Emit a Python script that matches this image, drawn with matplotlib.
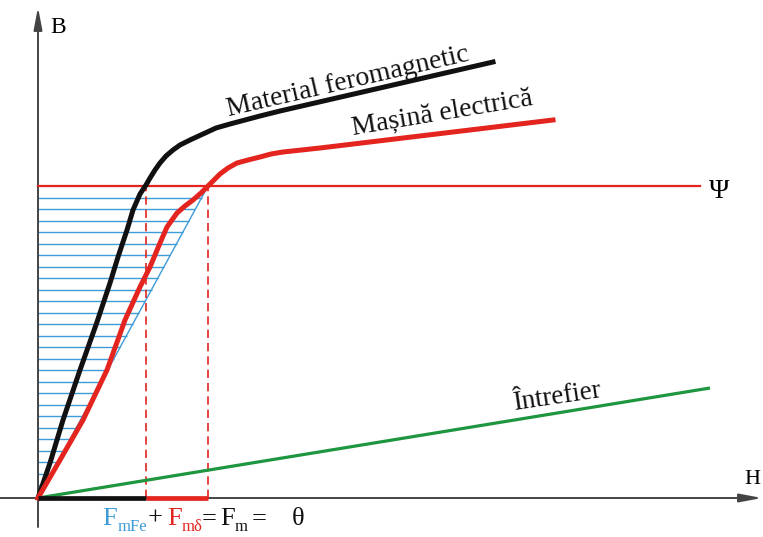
import numpy as np
import matplotlib
matplotlib.use('Agg')
import matplotlib.pyplot as plt

# ---- curve points (H, B), origin at the axes crossing
fe_H = [0, 12, 25, 42, 59, 72, 80, 89, 95, 102, 108, 112, 117, 122, 128, 135, 142,
        152, 165, 178, 192, 207, 222, 242, 455]
fe_B = [0, 35, 78, 128, 176, 215, 241, 268, 288, 304, 313, 320, 328, 335, 342, 348, 353,
        358, 364, 370, 374, 378, 382, 387, 436]

me_H = [0, 22, 45, 69, 87, 102, 112, 122, 129, 139, 147, 155, 163, 170, 176, 182, 190,
        199, 210, 222, 233, 245, 282, 515]
me_B = [0, 38, 78, 128, 178, 211, 231, 255, 271, 285, 292, 298, 305, 312, 318, 324, 330,
        335, 338, 341, 344, 346, 350, 378]

gap_H = [0, 672]
gap_B = [0, 110]

psi_B = 312          # flux level
psi_H_end = 662
H_fe = 108           # F_mFe
H_tot = 170          # F_m
hatch_step = 11.5

# ---- colours
c_black = '#111111'
c_red = '#e3241f'
c_blue = '#3d9bd8'
c_green = '#1e9640'
c_axis = '#444444'

plt.rcParams['font.family'] = ['Liberation Serif', 'DejaVu Serif']

fig = plt.figure(figsize=(7.63, 5.37), dpi=100)
ax = fig.add_axes([0, 0, 1, 1])
ax.set_xlim(-38, 725)
ax.set_ylim(-39, 498)
ax.axis('off')

# -- hatched triangle (blue)
levels = np.arange(psi_B - hatch_step, 0, -hatch_step)
ax.hlines(levels, 0, levels * H_tot / psi_B, color=c_blue, lw=1.0, zorder=1)
ax.plot([0, H_tot], [0, psi_B], color=c_blue, lw=1.0, zorder=2)

# -- dashed verticals
ax.vlines([H_fe, H_tot], 0, psi_B, color=c_red, lw=1.2, linestyles=(0, (5, 3)), zorder=3)

# -- axes with arrows
ax.annotate('', xy=(0, 491), xytext=(0, -29),
            arrowprops=dict(arrowstyle='-|>,head_length=0.9,head_width=0.17',
                            color=c_axis, lw=1.4, mutation_scale=15,
                            shrinkA=0, shrinkB=0), zorder=2)
ax.annotate('', xy=(724, 0), xytext=(-38, 0),
            arrowprops=dict(arrowstyle='-|>,head_length=0.9,head_width=0.17',
                            color=c_axis, lw=1.4, mutation_scale=15,
                            shrinkA=0, shrinkB=0), zorder=2)

# -- curves
ax.plot(gap_H, gap_B, color=c_green, lw=2.3, solid_capstyle='butt', zorder=4)
ax.plot([0, psi_H_end], [psi_B, psi_B], color=c_red, lw=1.6, zorder=4)
ax.plot(fe_H, fe_B, color=c_black, lw=3.6, solid_joinstyle='round', zorder=5)
ax.plot(me_H, me_B, color=c_red, lw=3.6, solid_joinstyle='round', zorder=5)

# -- magnetomotive force segments on H axis
ax.plot([0, H_fe], [0, 0], color=c_black, lw=3.4, solid_capstyle='butt', zorder=6)
ax.plot([H_fe, H_tot], [0, 0], color=c_red, lw=3.4, solid_capstyle='butt', zorder=6)

# -- labels
ax.text(311, 410, 'Material feromagnetic', fontsize=20, rotation=13,
        rotation_mode='anchor', ha='center', va='baseline', color=c_black)
ax.text(405, 378, 'Mașină electrică', fontsize=20, rotation=9.5,
        rotation_mode='anchor', ha='center', va='baseline', color=c_black)
ax.text(521, 95, 'Întrefier', fontsize=19.5, rotation=8.5,
        rotation_mode='anchor', ha='center', va='baseline', color=c_black)
ax.text(12, 465, 'B', fontsize=17, ha='left', va='baseline')
ax.text(681, 306, 'Ψ', fontsize=20, ha='center', va='center')
ax.text(706, 14, 'H', fontsize=16, ha='left', va='baseline')

# -- F_mFe + F_mδ = F_m = θ
big, small = 19, 12
yb, ys = -27, -33
pieces = [
    (64, yb, 'F', big, c_blue), (80, ys, 'mFe', small, c_blue),
    (110, yb, '+', big, c_black),
    (129, yb, 'F', big, c_red), (144, ys, 'mδ', small, c_red),
    (164, yb, '=', big, c_black),
    (182, yb, 'F', big, c_black), (197, ys, 'm', small, c_black),
    (214, yb, '=', big, c_black),
    (254, yb, 'θ', big, c_black),
]
for x, y, s, fs, col in pieces:
    ax.text(x, y, s, fontsize=fs, color=col, ha='left', va='baseline')

plt.savefig('out.png', dpi=100)
